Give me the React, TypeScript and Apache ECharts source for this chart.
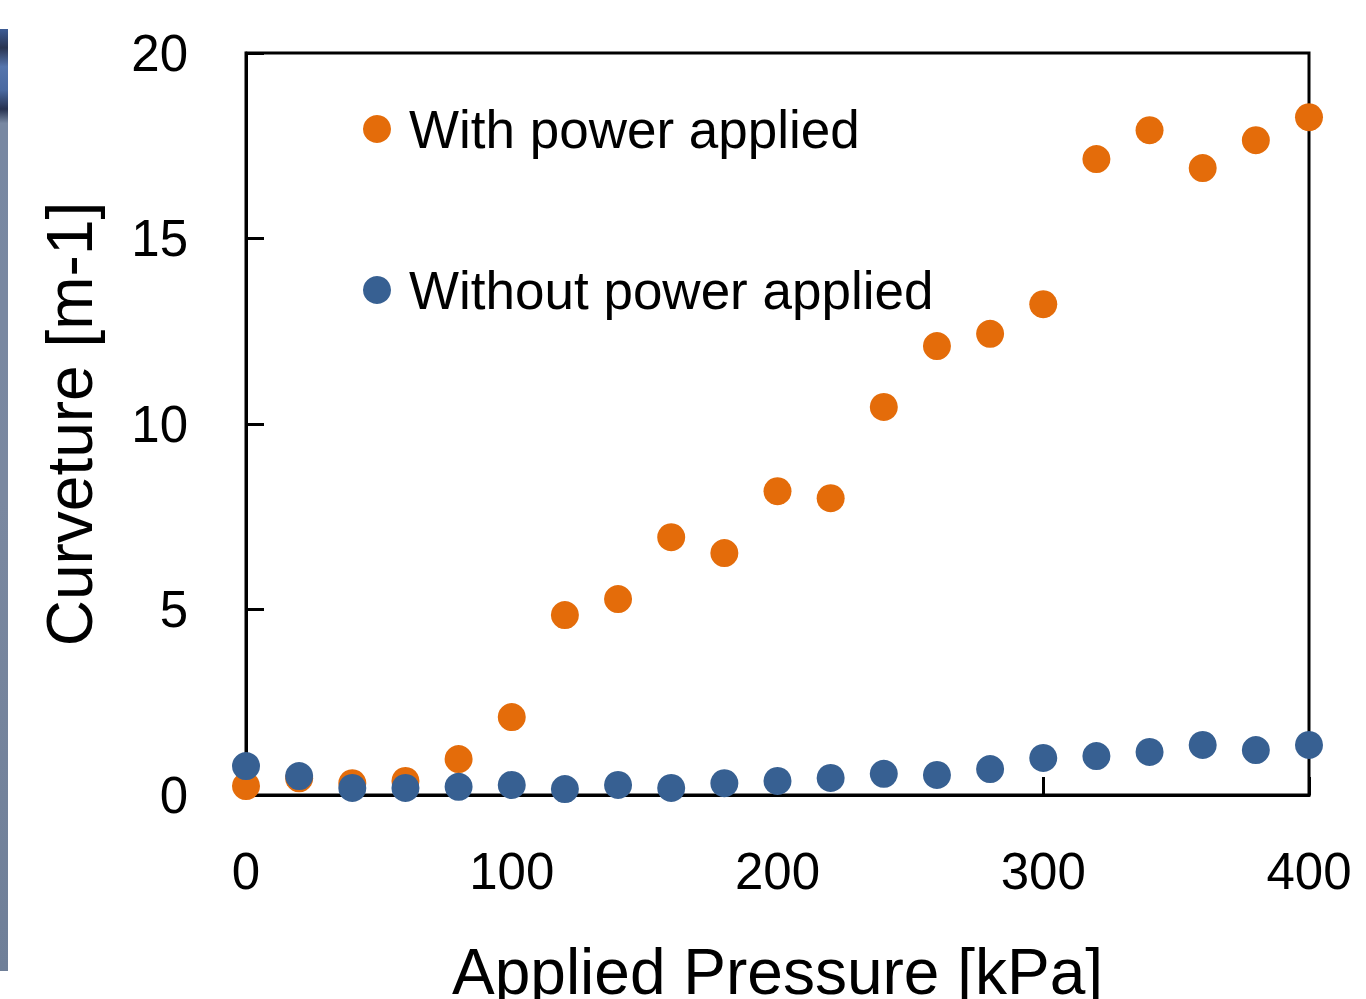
import React, { useEffect, useRef } from "react";
import * as echarts from "echarts";

const pressures = [0, 20, 40, 60, 80, 100, 120, 140, 160, 180, 200, 220, 240, 260, 280, 300, 320, 340, 360, 380, 400];
const withPower = [0.24, 0.45, 0.32, 0.38, 0.97, 2.1, 4.85, 5.28, 6.95, 6.52, 8.19, 8.0, 10.46, 12.1, 12.43, 13.23, 17.14, 17.92, 16.9, 17.65, 18.27];
const withoutPower = [0.78, 0.51, 0.19, 0.19, 0.22, 0.27, 0.16, 0.27, 0.19, 0.32, 0.38, 0.46, 0.57, 0.54, 0.7, 1.0, 1.05, 1.16, 1.35, 1.21, 1.35];
const seriesNames = ["With power applied", "Without power applied"];
const xTitle = "Applied Pressure [kPa]";
const yTitle = "Curveture [m-1]";

const FONT = "'Liberation Sans', Arial, sans-serif";

export default function App() {
  const ref = useRef<HTMLDivElement>(null);
  useEffect(() => {
    if (!ref.current) return;
    const chart = echarts.init(ref.current, undefined, { renderer: "svg" });
    const toPairs = (ys: number[]) => pressures.map((x, i) => [x, ys[i]]);
    chart.setOption({
      animation: false,
      backgroundColor: "#ffffff",
      textStyle: { fontFamily: FONT },
      grid: {
        left: 246,
        right: 57,
        top: 53,
        bottom: 204,
        outerBoundsMode: "none",
        containLabel: false,
        show: true,
        borderColor: "#000",
        borderWidth: 3,
        backgroundColor: "transparent",
      },
      legend: {
        orient: "vertical",
        left: 363,
        top: 99,
        padding: 0,
        itemWidth: 28,
        itemHeight: 28,
        itemGap: 101,
        icon: "circle",
        selectedMode: false,
        data: seriesNames,
        textStyle: {
          fontFamily: FONT,
          fontSize: 53,
          lineHeight: 60,
          color: "#000",
          padding: [0, 0, 0, 13],
        },
      },
      xAxis: {
        type: "value",
        min: 0,
        max: 400,
        interval: 100,
        name: xTitle,
        nameLocation: "middle",
        nameGap: 145,
        nameTextStyle: { fontFamily: FONT, fontSize: 64, color: "#000" },
        axisLine: { show: true, lineStyle: { color: "#000", width: 3 } },
        axisTick: { show: true, inside: true, length: 18, lineStyle: { color: "#000", width: 3 } },
        axisLabel: { fontFamily: FONT, fontSize: 51, color: "#000", margin: 51 },
        splitLine: { show: false },
      },
      yAxis: {
        type: "value",
        min: 0,
        max: 20,
        interval: 5,
        name: yTitle,
        nameLocation: "middle",
        nameGap: 144,
        nameTextStyle: { fontFamily: FONT, fontSize: 64, color: "#000" },
        axisLine: { show: true, lineStyle: { color: "#000", width: 3 } },
        axisTick: { show: true, inside: true, length: 18, lineStyle: { color: "#000", width: 3 } },
        axisLabel: { fontFamily: FONT, fontSize: 51, color: "#000", margin: 58 },
        splitLine: { show: false },
      },
      series: [
        {
          name: seriesNames[0],
          type: "scatter",
          symbol: "circle",
          symbolSize: 28,
          itemStyle: { color: "#E46C0A", opacity: 1 },
          data: toPairs(withPower),
          z: 2,
        },
        {
          name: seriesNames[1],
          type: "scatter",
          symbol: "circle",
          symbolSize: 28,
          itemStyle: { color: "#376092", opacity: 1 },
          data: toPairs(withoutPower),
          z: 3,
        },
      ],
      graphic: [
        {
          type: "rect",
          left: 0,
          top: 29,
          shape: { width: 8, height: 942 },
          silent: true,
          style: {
            fill: new echarts.graphic.LinearGradient(0, 0, 0, 1, [
              { offset: 0, color: "#3d5c95" },
              { offset: 0.02, color: "#2a3552" },
              { offset: 0.04, color: "#5575ad" },
              { offset: 0.065, color: "#4a69a0" },
              { offset: 0.085, color: "#273250" },
              { offset: 0.1, color: "#7888a2" },
              { offset: 0.5, color: "#7a88a0" },
              { offset: 1, color: "#6f7f98" },
            ]),
          },
        },
      ],
    });
    return () => chart.dispose();
  }, []);
  return (
    <div
      ref={ref}
      style={{ position: "fixed", left: 0, top: 0, width: 1366, height: 999 }}
    />
  );
}
